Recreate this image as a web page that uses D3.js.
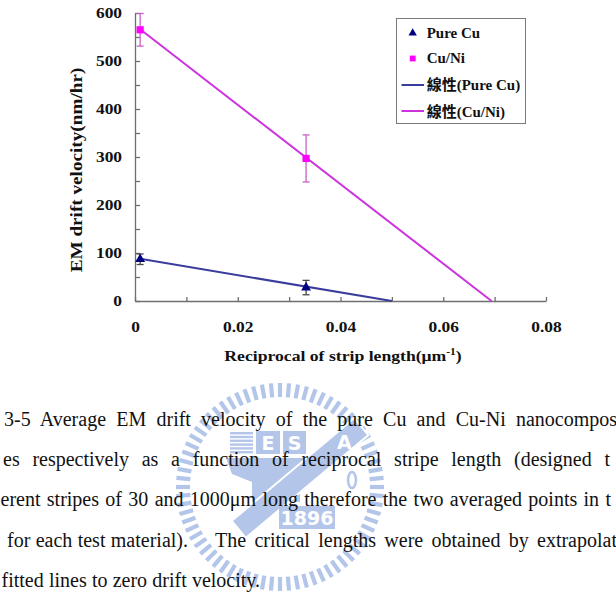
<!DOCTYPE html>
<html><head><meta charset="utf-8">
<script src="https://cdn.jsdelivr.net/npm/d3@7"></script>
<style>body{margin:0;background:#fff;} svg{display:block;}</style>
</head><body>
<svg id="c" width="616" height="592"></svg>
<script>
// ---- data ----
const xPoints = [0.001, 0.0333];          // 1/1000 µm, 1/30 µm
const pureCu = [87, 28];
const pureCuErr = [11, 15];
const cuNi = [565, 297];
const cuNiErr = [34, 49];
const pureCuFitX = [0.001, 0.05];
const pureCuFitY = [88, 0];
const cuNiFitX = [0.001, 0.0694];
const cuNiFitY = [566, 0];
const xTicks = [0, 0.01, 0.02, 0.03, 0.04, 0.05, 0.06, 0.07, 0.08];
const yTicks = [0, 50, 100, 150, 200, 250, 300, 350, 400, 450, 500, 550, 600];
const legendLabels = ["Pure Cu", "Cu/Ni", "線性(Pure Cu)", "線性(Cu/Ni)"];
const yTitle = "EM drift velocity(nm/hr)";
const xTitle = "Reciprocal of strip length(μm";
const captionTexts = [
  "3-5 Average EM drift velocity of the pure Cu and Cu-Ni nanocompos",
  "es respectively as a function of reciprocal stripe length (designed t",
  "erent stripes of 30 and 1000μm long therefore the two averaged points in t",
  "for each test material).",
  "The critical lengths were obtained by extrapolat",
  "fitted lines to zero drift velocity."
];

// ---- layout ----
const svg = d3.select("#c");
const x = d3.scaleLinear().domain([0, 0.08]).range([135, 546]);
const y = d3.scaleLinear().domain([0, 600]).range([301, 13]);
const axisColor = "#6f6f6f";
const serif = "'Liberation Serif','Times New Roman','Noto Sans CJK TC',serif";
const cuColor = "#000080", cuLine = "#3c3c9c", cuErrColor = "#4a4a4a";
const niColor = "#ff00ff", niLine = "#cc33dd", niErrColor = "#c860c8";
const wmColor = "#b3c6ea";

// ---- watermark (behind everything) ----
const wm = svg.append("g").attr("fill", wmColor).attr("stroke", "none");
const wcx = 280, wcy = 487;
const nD = 72;
for (let i = 0; i < nD; i++) {
  const a = i / nD * 2 * Math.PI;
  wm.append("line")
    .attr("x1", wcx + 90 * Math.cos(a)).attr("y1", wcy + 90 * Math.sin(a))
    .attr("x2", wcx + 104 * Math.cos(a)).attr("y2", wcy + 104 * Math.sin(a))
    .attr("stroke", wmColor).attr("stroke-width", 4.2);
}
for (let i = 0; i < 6; i++) {
  wm.append("rect").attr("x", 230).attr("y", 432 + i * 3.8).attr("width", 23).attr("height", 2.4);
}
wm.append("rect").attr("x", 256).attr("y", 431).attr("width", 24).attr("height", 23);
wm.append("rect").attr("x", 283).attr("y", 431).attr("width", 23).attr("height", 23);
wm.append("text").attr("x", 268).attr("y", 450).attr("text-anchor", "middle")
  .attr("fill", "#fff").attr("font-family", "DejaVu Sans").attr("font-weight", "bold").attr("font-size", 19).text("E");
wm.append("text").attr("x", 294.5).attr("y", 450).attr("text-anchor", "middle")
  .attr("fill", "#fff").attr("font-family", "DejaVu Sans").attr("font-weight", "bold").attr("font-size", 19).text("S");
wm.append("path").attr("d", "M226,458 L330,458 L322,474 L300,482 L300,502 L252,502 L252,482 L232,474 Z");
wm.append("g").attr("transform", "translate(300,478) rotate(-40)")
  .call(g => {
    g.append("rect").attr("x", -80).attr("y", -11).attr("width", 160).attr("height", 22)
      .attr("stroke", "#fff").attr("stroke-width", 2);
    g.append("text").attr("x", 58).attr("y", 8).attr("text-anchor", "middle").attr("transform", "rotate(40,58,0)")
      .attr("fill", "#fff").attr("font-family", "DejaVu Sans").attr("font-weight", "bold").attr("font-size", 19).text("A");
  });
wm.append("ellipse").attr("cx", 352).attr("cy", 480).attr("rx", 4).attr("ry", 8)
  .attr("fill", "none").attr("stroke", wmColor).attr("stroke-width", 2.5);
wm.append("rect").attr("x", 279).attr("y", 506).attr("width", 56).attr("height", 23);
wm.append("text").attr("x", 307).attr("y", 525).attr("text-anchor", "middle")
  .attr("fill", "#fff").attr("font-family", "DejaVu Sans").attr("font-weight", "bold").attr("font-size", 19).text("1896");

// ---- axes ----
const fmtX = d => d === 0 ? "0" : d.toFixed(2);
const gx = svg.append("g").attr("transform", "translate(0,301)")
  .call(d3.axisBottom(x).tickValues(xTicks).tickSize(-4).tickSizeOuter(0).tickPadding(21)
    .tickFormat(d => (Math.round(d * 100) % 2 === 0) ? fmtX(d) : ""));
const gy = svg.append("g").attr("transform", "translate(135,0)")
  .call(d3.axisLeft(y).tickValues(yTicks).tickSize(-5).tickSizeOuter(0).tickPadding(10.8)
    .tickFormat(d => d % 100 === 0 ? String(d) : ""));
[gx, gy].forEach(g => {
  g.select(".domain").attr("stroke", axisColor).attr("stroke-width", 1.3);
  g.selectAll(".tick line").attr("stroke", axisColor).attr("stroke-width", 1.3);
  g.selectAll(".tick text").attr("fill", "#111").attr("font-family", serif)
    .attr("font-weight", "bold").attr("font-size", 14.5).attr("transform", "scale(1.2,1)");
});

// axis titles
svg.append("text").attr("transform", "translate(82,170) rotate(-90) scale(1.2,1)")
  .attr("text-anchor", "middle").attr("font-family", serif).attr("font-weight", "bold")
  .attr("font-size", 16).attr("fill", "#111").text(yTitle);
const xt = svg.append("text").attr("transform", "translate(343,361) scale(1.14,1)")
  .attr("text-anchor", "middle").attr("font-family", serif).attr("font-weight", "bold")
  .attr("font-size", 15.5).attr("fill", "#111");
xt.append("tspan").text(xTitle);
xt.append("tspan").attr("font-size", 10).attr("dy", -6).text("-1");
xt.append("tspan").attr("dy", 6).text(")");

// ---- fitted lines ----
const line = d3.line().x(d => x(d[0])).y(d => y(d[1]));
svg.append("path").datum(d3.zip(pureCuFitX, pureCuFitY)).attr("d", line)
  .attr("fill", "none").attr("stroke", cuLine).attr("stroke-width", 2);
svg.append("path").datum(d3.zip(cuNiFitX, cuNiFitY)).attr("d", line)
  .attr("fill", "none").attr("stroke", niLine).attr("stroke-width", 2);

// ---- error bars ----
function errBars(vals, errs, color) {
  const g = svg.append("g").attr("stroke", color).attr("stroke-width", 1.3);
  vals.forEach((v, i) => {
    const px = x(xPoints[i]);
    g.append("line").attr("x1", px).attr("x2", px).attr("y1", y(v + errs[i])).attr("y2", y(v - errs[i]));
    [v + errs[i], v - errs[i]].forEach(e =>
      g.append("line").attr("x1", px - 3.5).attr("x2", px + 3.5).attr("y1", y(e)).attr("y2", y(e)));
  });
}
errBars(pureCu, pureCuErr, cuErrColor);
errBars(cuNi, cuNiErr, niErrColor);

// ---- markers ----
const tri = d3.symbol().type(d3.symbolTriangle).size(42);
const sq = d3.symbol().type(d3.symbolSquare).size(52);
svg.append("g").selectAll("path").data(pureCu).join("path")
  .attr("d", tri).attr("transform", (d, i) => `translate(${x(xPoints[i])},${y(d)})`).attr("fill", cuColor);
svg.append("g").selectAll("path").data(cuNi).join("path")
  .attr("d", sq).attr("transform", (d, i) => `translate(${x(xPoints[i])},${y(d)})`).attr("fill", niColor);

// ---- legend ----
const lg = svg.append("g");
lg.append("rect").attr("x", 396.5).attr("y", 18.5).attr("width", 129).attr("height", 105)
  .attr("fill", "#fff").attr("stroke", "#7a7a7a").attr("stroke-width", 1);
const legendY = [33, 58.5, 85, 111];
const legendBase = [37.7, 63.3, 90, 116.5];
lg.append("path").attr("d", d3.symbol().type(d3.symbolTriangle).size(30))
  .attr("transform", `translate(412.7,${legendY[0]})`).attr("fill", cuColor);
lg.append("path").attr("d", d3.symbol().type(d3.symbolSquare).size(34))
  .attr("transform", `translate(412.7,${legendY[1]})`).attr("fill", niColor);
lg.append("line").attr("x1", 401.5).attr("x2", 424).attr("y1", legendY[2]).attr("y2", legendY[2])
  .attr("stroke", cuLine).attr("stroke-width", 2);
lg.append("line").attr("x1", 401.5).attr("x2", 424).attr("y1", legendY[3]).attr("y2", legendY[3])
  .attr("stroke", niLine).attr("stroke-width", 2);
legendLabels.forEach((t, i) => {
  lg.append("text").attr("x", 426.7).attr("y", legendBase[i]).attr("font-family", serif)
    .attr("font-weight", "bold").attr("font-size", 15).attr("fill", "#111").text(t);
});

// ---- caption ----
const cap = svg.append("g").attr("font-family", "'Liberation Serif','Times New Roman',serif")
  .attr("font-size", 20).attr("fill", "#111");
function placeLine(text, x0, x1, yb) {
  const t = cap.append("text").attr("x", x0).attr("y", yb).text(text);
  const w = t.node().getComputedTextLength();
  const spaces = (text.match(/ /g) || []).length;
  const ws = spaces ? (x1 - x0 - w) / spaces : 0;
  t.attr("word-spacing", ws.toFixed(2));
}
placeLine(captionTexts[0], 4, 617, 426);
placeLine(captionTexts[1], 3, 610, 466);
placeLine(captionTexts[2], 0.5, 611, 506);
placeLine(captionTexts[3], 7, 188, 546.5);
placeLine(captionTexts[4], 215, 617, 546.5);
placeLine(captionTexts[5], 1.5, 260, 586.5);
</script>
</body></html>
